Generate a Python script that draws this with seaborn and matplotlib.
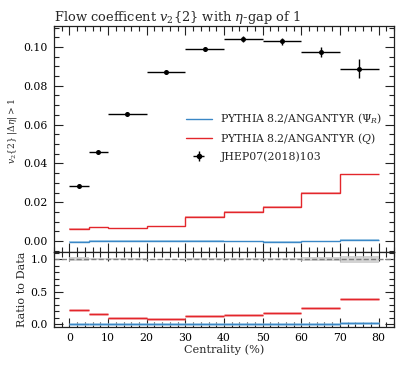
import numpy as np
import pandas as pd
import seaborn as sns
import matplotlib
matplotlib.use("Agg")
import matplotlib.pyplot as plt
from matplotlib.ticker import AutoMinorLocator, MultipleLocator

# ---- data ----
bin_edges = [0, 5, 10, 20, 30, 40, 50, 60, 70, 80]
data_v2 = [0.0285, 0.0457, 0.0655, 0.0870, 0.0990, 0.1042, 0.1030, 0.0975, 0.0888]
data_err = [0.0008, 0.0008, 0.0008, 0.0008, 0.0012, 0.0015, 0.0018, 0.0025, 0.0048]
model_q = [0.0062, 0.0073, 0.0068, 0.0078, 0.0125, 0.0152, 0.0178, 0.0248, 0.0345]
model_q_err = [0.0003, 0.0002, 0.0002, 0.0002, 0.0003, 0.0003, 0.0003, 0.0003, 0.0003]
model_psi = [-0.0002, 0.0003, 0.0003, 0.0003, 0.0002, 0.0000, -0.0003, 0.0001, 0.0008]
model_psi_err = [0.0003, 0.0002, 0.0002, 0.0002, 0.0002, 0.0003, 0.0003, 0.0002, 0.0002]

edges = np.array(bin_edges, float)
centers = 0.5 * (edges[1:] + edges[:-1])
halfw = 0.5 * (edges[1:] - edges[:-1])
dv = np.array(data_v2); de = np.array(data_err)
mq = np.array(model_q); mqe = np.array(model_q_err)
mp = np.array(model_psi); mpe = np.array(model_psi_err)

df = pd.DataFrame({"cent": centers, "v2": dv})

sns.set_theme(style="ticks")
plt.rcParams["font.family"] = ["DejaVu Serif"]
plt.rcParams["mathtext.fontset"] = "dejavuserif"
plt.rcParams["xtick.direction"] = "in"
plt.rcParams["ytick.direction"] = "in"
plt.rcParams["axes.linewidth"] = 0.9
plt.rcParams["axes.edgecolor"] = "#222222"
plt.rcParams["xtick.color"] = "#222222"
plt.rcParams["ytick.color"] = "#222222"
plt.rcParams["xtick.labelcolor"] = "black"
plt.rcParams["ytick.labelcolor"] = "black"

BLUE = "#3a87c6"
RED = "#e3262b"
BLUE_L = "#8fbfe2"
RED_L = "#f08c8e"
TICK_FS = 7.8

fig = plt.figure(figsize=(4.07, 3.66), dpi=100)
ax = fig.add_axes([0.1327, 0.3115, 0.8353, 0.6175])
rax = fig.add_axes([0.1327, 0.1066, 0.8353, 0.2049], sharex=ax)

# top panel: model bands + lines
for vals, errs, c, cl, lab in [(mp, mpe, BLUE, BLUE_L, r"PYTHIA 8.2/ANGANTYR ($\Psi_R$)"),
                               (mq, mqe, RED, RED_L, r"PYTHIA 8.2/ANGANTYR ($Q$)")]:
    ax.stairs(vals + errs, edges, baseline=vals - errs, fill=True, color=cl, alpha=0.7, lw=0)
    ax.stairs(vals, edges, baseline=None, color=c, lw=1.0, label=lab)

ax.errorbar(centers, dv, yerr=de, xerr=halfw, fmt="none", ecolor="black", elinewidth=1.0)
sns.scatterplot(data=df, x="cent", y="v2", ax=ax, color="black", s=13, edgecolor="black",
                linewidth=0, zorder=5)
dh = ax.errorbar([], [], yerr=[], xerr=[], fmt="o", color="black", ms=3, elinewidth=1.0)

h, l = ax.get_legend_handles_labels()
ax.legend([h[0], h[1], dh], [l[0], l[1], "JHEP07(2018)103"], loc="upper left",
          bbox_to_anchor=(0.375, 0.64), frameon=False, fontsize=7.8, handlelength=2.4,
          labelspacing=0.5, handletextpad=0.8, borderaxespad=0)

ax.set_ylim(-0.0056, 0.1108)
ax.set_xlim(-4, 84)
ax.yaxis.set_major_locator(MultipleLocator(0.02))
ax.yaxis.set_minor_locator(AutoMinorLocator(4))
ax.xaxis.set_major_locator(MultipleLocator(10))
ax.xaxis.set_minor_locator(AutoMinorLocator(5))
ax.tick_params(which="both", top=True, right=True, labelbottom=False, labelsize=TICK_FS,
               width=0.8, pad=4.5)
ax.tick_params(which="major", length=6.5)
ax.tick_params(which="minor", length=3.5)
ax.set_ylabel(r"$v_2\{2\}\ |\Delta\eta| > 1$", fontsize=6.6)
ax.yaxis.set_label_coords(-0.103, 0.535)
ax.set_xlabel("")
ax.set_title(r"Flow coefficent $v_2\{2\}$ with $\eta$-gap of 1", loc="left", fontsize=9.4, pad=3)

# ratio panel
rel = de / dv
rax.stairs(1 + rel, edges, baseline=1 - rel, fill=True, color="#c8c8c8", alpha=0.8, lw=0)
rax.axhline(1.0, color="gray", ls="--", lw=1.0)
rq = mq / dv
rp = mp / dv
rax.hlines(rq, edges[:-1], edges[1:], color=RED_L, lw=1.8)
rax.hlines(rq, edges[:-1], edges[1:], color=RED, lw=0.8)
rax.hlines(np.clip(rp, 0, None) + 0.005, edges[:-1], edges[1:], color=BLUE_L, lw=1.8)
rax.hlines(np.clip(rp, 0, None) + 0.005, edges[:-1], edges[1:], color=BLUE, lw=0.8)

rax.set_ylim(-0.04, 1.11)
rax.yaxis.set_major_locator(MultipleLocator(0.5))
rax.yaxis.set_minor_locator(AutoMinorLocator(5))
rax.tick_params(which="both", top=True, right=True, labelsize=TICK_FS, width=0.8, pad=4.5)
rax.tick_params(which="major", length=6.5)
rax.tick_params(which="minor", length=3.5)
rax.set_ylabel("Ratio to Data", fontsize=8.1)
rax.yaxis.set_label_coords(-0.079, 0.5)
rax.set_xlabel("Centrality (%)", fontsize=8.1, labelpad=1)
rax.set_xlim(-4, 84)

fig.savefig("out.png", dpi=100)
